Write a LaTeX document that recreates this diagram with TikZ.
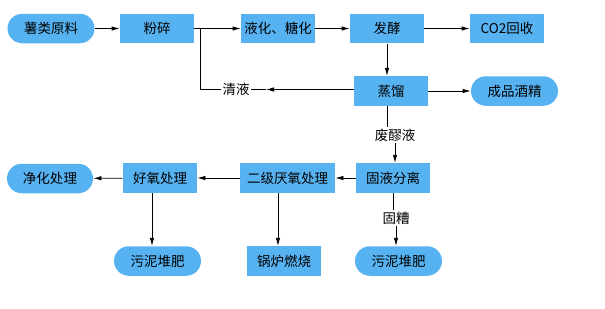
\documentclass[tikz,border=0pt]{standalone}
\usepackage{fontspec}
\setmainfont{Noto Sans CJK SC}
\usetikzlibrary{arrows.meta}
\definecolor{boxblue}{RGB}{86,178,240}
\begin{document}
\begin{tikzpicture}[x=1pt,y=-1pt,
  txt/.style={font=\fontsize{13.5}{14}\selectfont, text=black},
  box/.style={txt, fill=boxblue, minimum width=74pt, minimum height=29.5pt, inner sep=0pt},
  pill/.style={box, rounded corners=14.75pt, minimum width=87pt},
  lbl/.style={txt, fill=white, inner sep=1pt},
  arr/.style={-{Latex[length=8pt,width=4.5pt]}},
  line width=0.8pt]
\useasboundingbox (0,0) rectangle (605,308);
\node[pill] (yl) at (51,28.5) {薯类原料};
\node[box] (fs) at (157,28.5) {粉碎};
\node[box] (yh) at (278,28.5) {液化、糖化};
\node[box] (fj) at (387,28.5) {发酵};
\node[box] (co) at (507,28.5) {CO2回收};
\node[box] (zl) at (391,91) {蒸馏};
\node[pill] (cp) at (514.5,91) {成品酒精};
\node[lbl] (qy) at (236,89.5) {清液};
\node[lbl] (fzy) at (395,135) {废醪液};
\node[box] (gy) at (393,178) {固液分离};
\node[box, minimum width=95pt] (ej) at (287.5,178) {二级厌氧处理};
\node[box] (hy) at (160,178) {好氧处理};
\node[pill, minimum width=86pt] (jh) at (50,178.5) {净化处理};
\node[lbl] (gz) at (396,218) {固糟};
\node[pill] (wa) at (157.5,261) {污泥堆肥};
\node[box] (gl) at (284,261) {锅炉燃烧};
\node[pill] (wb) at (398.5,261) {污泥堆肥};
\coordinate (j) at (200,28.5);
\coordinate (c) at (200,89.5);
\coordinate (m) at (266,89.5);
\draw[arr] (yl) -- (fs);
\draw[arr] (fs) -- (yh);
\draw[arr] (yh) -- (fj);
\draw[arr] (fj) -- (co);
\draw[arr] (fj.south) -- (fj.south |- zl.north);
\draw[arr] (zl) -- (cp);
\draw[arr] (zl.west |- m) -- (m);
\draw (m) -- (qy.east);
\draw (qy.west) -- (c) -- (j);
\draw ([xshift=-4pt]zl.south) -- ([xshift=-4pt]zl.south |- fzy.north);
\draw[arr] (fzy.south) -- (fzy.south |- gy.north);
\draw[arr] (gy) -- (ej);
\draw[arr] (ej) -- (hy);
\draw[arr] (hy) -- (jh);
\draw[arr] ([xshift=-8pt]hy.south) -- ([xshift=-8pt]hy.south |- wa.north);
\draw[arr] ([xshift=-9.5pt]ej.south) -- ([xshift=-9.5pt]ej.south |- gl.north);
\draw (gy.south) -- (gy.south |- gz.north);
\draw[arr] (gz.south) -- (gz.south |- wb.north);
\end{tikzpicture}
\end{document}
